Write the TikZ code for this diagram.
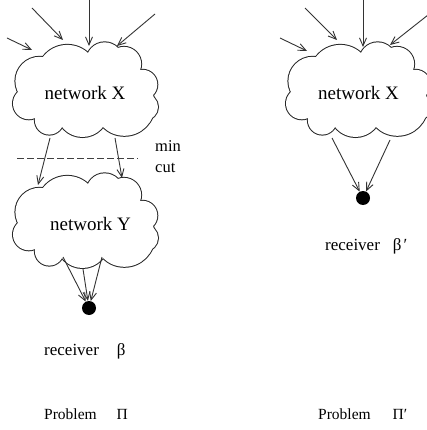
\documentclass[tikz,border=0pt]{standalone}
\usepackage{fontspec}
\setmainfont{Liberation Serif}
\usetikzlibrary{arrows.meta}
\tikzset{
  puffstroke/.style={draw=black!85, line width=2pt},
  pufffill/.style={fill=white},
  arr/.style={draw=black!80, line width=0.9pt, -{Straight Barb[length=8pt,width=7pt]}},
  cutline/.style={draw=black!75, line width=0.9pt, dash pattern=on 6.5pt off 3.5pt},
  dot/.style={circle, fill=black, inner sep=0pt, minimum size=14pt},
  lbl/.style={anchor=base west, inner sep=0pt},
  net/.style={anchor=base, inner sep=0pt, font=\fontsize{19}{22}\selectfont},
}
\newcommand\puffs{67.3/75.4/30.5, 104.7/60.8/18.45, 124.0/64.0/17.1, 142.5/84.6/14.8,
  144.9/107/13.1, 124.4/105.4/30.4, 82.5/111/26, 49.3/120.2/14.4, 28.8/103.5/15.8, 39.7/81.1/24.3}
\newcommand\drawcloud[2]{%
  \begin{scope}[shift={(#1,#2)}]
    \foreach \cx/\cy/\r in \puffs { \path[puffstroke] (\cx,-\cy) circle[radius=\r]; }
    \foreach \cx/\cy/\r in \puffs { \path[pufffill] (\cx,-\cy) circle[radius=\r]; }
    \path[pufffill] (43,-57) -- (88,-53) -- (118,-48) -- (140,-70) -- (152,-96) -- (152,-118)
      -- (103,-127) -- (62,-127) -- (35,-118) -- (18,-92) -- cycle;
  \end{scope}}
\begin{document}
\begin{tikzpicture}[x=1pt,y=1pt]
\useasboundingbox (0,0) rectangle (427,-430);
\clip (0,0) rectangle (427,-430);
\fill[white] (0,0) rectangle (427,-430);
% clouds
\drawcloud{0}{0}
\drawcloud{0}{-131}
\drawcloud{273}{0}
\node[net] (nx) at (85,-100) {network X};
\node[net] (ny) at (90.5,-230.7) {network Y};
\node[net] (nxp) at (358.5,-100) {network X};
% left problem: incoming arrows
\coordinate (a1s) at (7,-38);   \coordinate (a1e) at (32,-50);
\coordinate (a2s) at (32,-8);   \coordinate (a2e) at (63,-40);
\coordinate (a3s) at (89,0);    \coordinate (a3e) at (89,-46);
\coordinate (a4s) at (155,-14); \coordinate (a4e) at (117,-46);
\draw[arr] (a1s) -- (a1e);
\draw[arr] (a2s) -- (a2e);
\draw[arr] (a3s) -- (a3e);
\draw[arr] (a4s) -- (a4e);
% X to Y
\coordinate (xy1s) at (50,-138);  \coordinate (xy1e) at (38,-185);
\coordinate (xy2s) at (115,-138); \coordinate (xy2e) at (122,-178);
\draw[arr] (xy1s) -- (xy1e);
\draw[arr] (xy2s) -- (xy2e);
% min cut
\coordinate (c1) at (17,-158); \coordinate (c2) at (138,-158);
\draw[cutline] (c1) -- (c2);
\node[lbl, font=\fontsize{16.5}{19}\selectfont] (min) at (155,-151.7) {min};
\node[lbl, font=\fontsize{16.5}{19}\selectfont] (cut) at (155,-173) {cut};
% receiver beta
\node[dot] (beta) at (89,-308) {};
\coordinate (y1) at (63,-257);
\coordinate (y2) at (83,-269);
\coordinate (y3) at (102,-257);
\draw[arr] (y1) -- (beta);
\draw[arr] (y2) -- (beta);
\draw[arr] (y3) -- (beta);
\node[lbl, font=\fontsize{17}{20}\selectfont] (rb) at (44,-355) {receiver\hspace{18pt}β};
\node[lbl, font=\fontsize{15.5}{18}\selectfont] (pb) at (44,-419) {Problem\hspace{20pt}Π};
% right problem
\coordinate (b1s) at (280,-38);  \coordinate (b1e) at (307,-51);
\coordinate (b2s) at (305,-8);   \coordinate (b2e) at (337,-40);
\coordinate (b3s) at (363,0);    \coordinate (b3e) at (363,-47);
\coordinate (b4s) at (428,-15);  \coordinate (b4e) at (390,-45);
\draw[arr] (b1s) -- (b1e);
\draw[arr] (b2s) -- (b2e);
\draw[arr] (b3s) -- (b3e);
\draw[arr] (b4s) -- (b4e);
\node[dot] (betap) at (363,-198) {};
\coordinate (x1) at (332,-138);
\coordinate (x2) at (390,-140);
\draw[arr] (x1) -- (betap);
\draw[arr] (x2) -- (betap);
\node[lbl, font=\fontsize{17}{20}\selectfont] (rbp) at (325,-250) {receiver\hspace{13pt}β\hspace{2pt}′};
\node[lbl, font=\fontsize{15.5}{18}\selectfont] (pbp) at (318,-419) {Problem\hspace{22pt}Π′};
\end{tikzpicture}
\end{document}
